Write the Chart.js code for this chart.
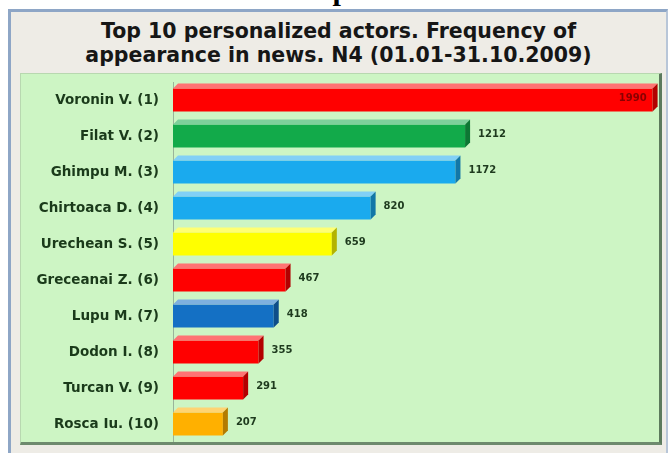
<!DOCTYPE html>
<html>
<head>
<meta charset="utf-8">
<script src="https://cdn.jsdelivr.net/npm/chart.js@4.4.0/dist/chart.umd.min.js"></script>
<style>
  body { margin: 0; width: 669px; height: 457px; background: #fff; position: relative; overflow: hidden; font-family: 'DejaVu Sans', Verdana, sans-serif; }
  #graph-no { position: absolute; left: 0; width: 669px; top: -27px; text-align: center; font: bold 30px 'Liberation Serif', serif; color: #000; }
  #frame { position: absolute; left: 8px; top: 9px; width: 655px; height: 441px; background: #eeece6; border-left: 3px solid #8ea6c6; border-top: 3px solid #8ea6c6; border-right: 2px solid #b8c6d8; }
  #title { position: absolute; left: 11px; top: 19px; width: 655px; text-align: center; font-weight: bold; font-size: 20.5px; line-height: 24px; color: #161616; }
  #panel { position: absolute; left: 20px; top: 73px; width: 638px; height: 368px; background: #cdf5c4; border-left: 1px solid #b8d8b0; border-top: 1px solid #b8d8b0; border-right: 3px solid #5c7a5c; border-bottom: 3px solid #6e8a6e; }
  canvas { position: absolute; left: 0; top: 0; }
</style>
</head>
<body>
<div id="graph-no">Graph 3</div>
<div id="frame"></div>
<div id="title">Top 10 personalized actors. Frequency of<br>appearance in news. N4 (01.01-31.10.2009)</div>
<div id="panel"><canvas id="chart" width="638" height="368"></canvas></div>
<script>
// Data
const actors = ['Voronin V. (1)', 'Filat V. (2)', 'Ghimpu M. (3)', 'Chirtoaca D. (4)', 'Urechean S. (5)',
    'Greceanai Z. (6)', 'Lupu M. (7)', 'Dodon I. (8)', 'Turcan V. (9)', 'Rosca Iu. (10)'];
const mentions = [1990, 1212, 1172, 820, 659, 467, 418, 355, 291, 207];

// Bar colours
const barColors = ['#ff0000', '#12aa4a', '#1aaaee', '#1aaaee', '#ffff00',
    '#ff0000', '#1470c4', '#ff0000', '#ff0000', '#ffb000'];

const DEPTH = 5;

// Mix a hex colour with white (amt > 0) or black (amt < 0)
const shade = (hex, amt) => {
    const n = parseInt(hex.slice(1), 16);
    let r = n >> 16, g = (n >> 8) & 255, b = n & 255;
    const t = amt < 0 ? 0 : 255, p = Math.abs(amt);
    r = Math.round(r + (t - r) * p);
    g = Math.round(g + (t - g) * p);
    b = Math.round(b + (t - b) * p);
    return `rgb(${r},${g},${b})`;
};

// Draw the 3D top and side faces plus the value labels
const bar3d = {
    id: 'bar3d',
    afterDatasetsDraw(chart) {
        const c = chart.ctx;
        const meta = chart.getDatasetMeta(0);
        meta.data.forEach((bar, i) => {
            const { x, y, base, height } = bar.getProps(['x', 'y', 'base', 'height'], true);
            const top = y - height / 2, bottom = y + height / 2;
            const col = barColors[i];
            c.save();
            // top face
            c.fillStyle = shade(col, 0.45);
            c.beginPath();
            c.moveTo(base, top);
            c.lineTo(base + DEPTH, top - DEPTH);
            c.lineTo(x + DEPTH, top - DEPTH);
            c.lineTo(x, top);
            c.closePath();
            c.fill();
            // side face
            c.fillStyle = shade(col, -0.3);
            c.beginPath();
            c.moveTo(x, top);
            c.lineTo(x + DEPTH, top - DEPTH);
            c.lineTo(x + DEPTH, bottom - DEPTH);
            c.lineTo(x, bottom);
            c.closePath();
            c.fill();
            // label
            c.font = 'bold 10px "DejaVu Sans", Verdana, sans-serif';
            c.textBaseline = 'middle';
            if (i === 0) {
                c.fillStyle = '#8a0000';
                c.textAlign = 'right';
                c.fillText(mentions[i], x - 6, y - 2);
            } else {
                c.fillStyle = '#1e3a1e';
                c.textAlign = 'left';
                c.fillText(mentions[i], x + DEPTH + 8, y - 2);
            }
            c.restore();
        });
    }
};

const ctx = document.getElementById('chart').getContext('2d');

new Chart(ctx, {
    type: 'bar',
    data: {
        labels: actors,
        datasets: [{
            data: mentions,
            backgroundColor: (context) => {
                const col = barColors[context.dataIndex];
                const el = context.element;
                if (!el || el.y === undefined || isNaN(el.y)) return col;
                const g = context.chart.ctx.createLinearGradient(0, el.y - el.height / 2, 0, el.y + el.height / 2);
                g.addColorStop(0, shade(col, 0.25));
                g.addColorStop(0.35, col);
                g.addColorStop(1, shade(col, -0.08));
                return g;
            },
            borderWidth: 0,
            barPercentage: 0.64,
            categoryPercentage: 1
        }]
    },
    options: {
        indexAxis: 'y',
        responsive: false,
        animation: false,
        layout: { padding: { top: 8, bottom: 0, right: 4, left: 0 } },
        plugins: {
            legend: { display: false },
            tooltip: { enabled: false }
        },
        scales: {
            x: { display: false, min: 0, max: 2000 },
            y: {
                afterFit: (scale) => {
                    scale.width = 152;
                    scale.paddingTop = 0;
                    scale.paddingBottom = 0;
                },
                grid: { display: false, drawTicks: true, tickLength: 14 },
                border: { display: true, color: '#9ab49a', width: 1 },
                ticks: {
                    padding: 0,
                    color: '#1a3a1a',
                    font: { family: '"DejaVu Sans", Verdana, sans-serif', weight: 'bold', size: 13.5 }
                }
            }
        }
    },
    plugins: [bar3d]
});
</script>
</body>
</html>
